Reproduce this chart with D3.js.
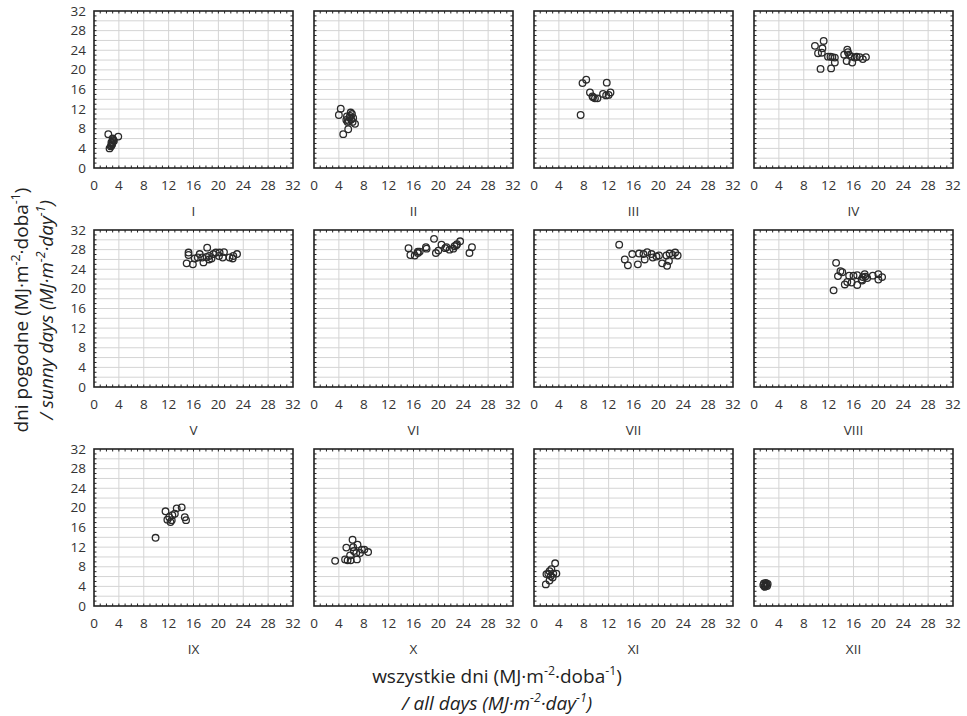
<!DOCTYPE html>
<html>
<head>
<meta charset="utf-8">
<script src="https://cdn.jsdelivr.net/npm/d3@7"></script>
<style>
  body { margin: 0; background: #fff; }
  svg { font-family: "Open Sans", "DejaVu Sans", sans-serif; }
</style>
</head>
<body>
<svg id="chart" width="967" height="716"></svg>
<script>
// month labels (one panel per month)
const months = ["I", "II", "III", "IV", "V", "VI", "VII", "VIII", "IX", "X", "XI", "XII"];
const ticks = [0, 4, 8, 12, 16, 20, 24, 28, 32];

// [all days, sunny days] per month
const m1 = [[2.3,6.9],[3.9,6.4],[2.5,4.0],[2.8,4.6],[2.9,5.0],[3.0,5.3],[3.1,5.7],[2.8,5.2],[3.0,6.0],[2.7,4.4],[3.2,5.5],[2.9,4.8]];
const m2 = [[4.3,12.1],[4.0,10.8],[5.9,11.3],[6.3,10.2],[5.2,9.8],[5.7,10.3],[5.4,9.4],[6.6,9.0],[5.5,7.9],[4.7,6.9],[5.6,9.6],[6.0,9.9],[5.8,10.6],[6.2,9.4],[5.3,10.5],[6.1,11.0]];
const m3 = [[7.5,10.8],[7.8,17.3],[8.4,18.0],[11.7,17.4],[9.0,15.4],[9.4,14.6],[9.8,14.2],[10.2,14.2],[11.1,15.1],[11.6,14.8],[12.0,14.9],[12.3,15.4],[9.5,14.4]];
const m4 = [[9.8,24.9],[11.2,25.9],[11.0,24.4],[10.3,23.4],[10.9,23.5],[10.7,20.2],[11.9,22.7],[12.3,22.7],[12.6,22.6],[13.0,22.5],[13.0,21.5],[12.4,20.3],[15.0,24.1],[14.5,23.1],[15.3,23.1],[14.9,21.8],[15.8,21.5],[15.7,22.7],[16.5,22.7],[17.0,22.6],[17.5,22.2],[18.0,22.6],[16.2,22.5],[15.1,23.6]];
const m5 = [[14.9,25.2],[15.9,25.0],[15.2,27.4],[15.2,26.9],[16.2,26.2],[17.0,27.1],[17.4,26.4],[17.6,25.4],[18.2,28.4],[18.5,26.7],[18.5,26.0],[18.1,26.5],[18.9,26.2],[19.6,27.4],[20.1,26.7],[20.2,27.4],[20.9,27.5],[20.7,26.4],[21.8,26.4],[22.3,26.2],[22.4,26.7],[23.0,27.1],[16.7,26.4],[19.2,27.1]];
const m6 = [[15.2,28.3],[15.5,26.9],[16.2,26.8],[16.7,27.3],[17.0,27.6],[18.0,28.5],[18.1,28.2],[19.3,30.2],[19.6,27.3],[20.0,27.8],[20.5,29.0],[21.1,28.3],[21.8,28.0],[22.4,28.2],[22.6,28.7],[23.0,29.1],[23.5,29.7],[22.9,28.9],[25.0,27.3],[25.4,28.5],[21.3,28.5],[16.7,27.6]];
const m7 = [[13.7,29.0],[14.6,26.0],[15.1,24.8],[15.8,27.1],[16.7,25.0],[16.9,27.2],[17.6,27.1],[17.8,26.0],[18.2,27.5],[18.9,27.1],[19.1,26.4],[19.7,26.6],[20.1,26.8],[20.6,25.2],[21.4,24.7],[21.3,26.8],[21.8,27.2],[22.3,26.9],[22.7,27.4],[23.1,26.8],[21.7,25.7]];
const m8 = [[12.8,19.7],[13.2,25.3],[13.9,23.6],[13.5,22.6],[14.2,23.4],[14.6,20.9],[15.0,21.4],[15.3,22.7],[15.7,21.3],[16.0,22.7],[16.6,20.8],[16.6,22.8],[17.3,21.9],[17.5,22.4],[17.8,23.0],[17.9,22.5],[18.2,22.2],[19.1,22.7],[20.0,23.0],[20.0,21.9],[20.6,22.4],[17.4,21.7]];
const m9 = [[9.9,13.9],[11.5,19.3],[11.8,17.6],[12.1,18.1],[12.5,17.5],[12.6,18.5],[13.0,18.8],[13.3,19.9],[14.1,20.1],[14.6,18.1],[14.8,17.5],[12.3,17.1]];
const m10 = [[3.4,9.2],[5.0,9.5],[5.4,9.3],[5.9,9.3],[5.2,11.9],[6.2,13.5],[6.3,12.0],[7.0,12.5],[6.8,10.8],[6.9,9.5],[7.4,10.8],[7.7,11.5],[8.1,11.5],[8.7,11.0],[6.4,11.2],[5.8,10.3]];
const m11 = [[1.9,4.4],[2.5,5.2],[2.0,6.5],[2.5,7.1],[2.8,7.5],[3.1,6.6],[3.4,8.7],[3.6,6.6],[3.0,5.8],[2.7,6.1],[2.3,6.6]];
const m12 = [[1.6,4.6],[1.8,4.2],[2.0,4.4],[1.7,3.9],[2.1,4.1],[1.9,4.7],[1.5,4.3],[2.2,4.5],[1.8,4.0]];
const series = [m1, m2, m3, m4, m5, m6, m7, m8, m9, m10, m11, m12];

const svg = d3.select("#chart");

const pw = 199, ph = 157;
const x = d3.scaleLinear().domain([0, 32]).range([0, pw]);
const y = d3.scaleLinear().domain([0, 32]).range([ph, 0]);

series.forEach((pts, i) => {
    const col = i % 4, row = Math.floor(i / 4);
    const g = svg.append("g")
        .attr("transform", `translate(${94 + col * 220}, ${11 + row * 219})`);

    // grid: vertical every 4, horizontal every 2
    g.selectAll(".vg").data(d3.range(4, 32, 4)).join("line")
        .attr("x1", d => x(d)).attr("x2", d => x(d))
        .attr("y1", 0).attr("y2", ph)
        .attr("stroke", "#d4d4d4").attr("stroke-width", 1);
    g.selectAll(".hg").data(d3.range(2, 32, 2)).join("line")
        .attr("y1", d => y(d)).attr("y2", d => y(d))
        .attr("x1", 0).attr("x2", pw)
        .attr("stroke", "#d4d4d4").attr("stroke-width", 1);

    // minor ticks, inward, on all four sides
    const minor = d3.range(1, 32, 1);
    g.selectAll(".tb").data(minor).join("line")
        .attr("x1", d => x(d)).attr("x2", d => x(d))
        .attr("y1", ph).attr("y2", ph - 2.5)
        .attr("stroke", "#222");
    g.selectAll(".tt").data(minor).join("line")
        .attr("x1", d => x(d)).attr("x2", d => x(d))
        .attr("y1", 0).attr("y2", 2.5)
        .attr("stroke", "#222");
    g.selectAll(".tl").data(minor).join("line")
        .attr("y1", d => y(d)).attr("y2", d => y(d))
        .attr("x1", 0).attr("x2", 2.5)
        .attr("stroke", "#222");
    g.selectAll(".tr").data(minor).join("line")
        .attr("y1", d => y(d)).attr("y2", d => y(d))
        .attr("x1", pw).attr("x2", pw - 2.5)
        .attr("stroke", "#222");

    // frame
    g.append("rect")
        .attr("width", pw).attr("height", ph)
        .attr("fill", "none").attr("stroke", "#222").attr("stroke-width", 1.6);

    // x tick labels
    g.selectAll(".xl").data(ticks).join("text")
        .attr("x", d => x(d)).attr("y", ph + 22)
        .attr("text-anchor", "middle")
        .attr("font-size", 13.5).attr("fill", "#333")
        .text(d => d);

    // y tick labels only on the left column
    if (col === 0) {
        g.selectAll(".yl").data(ticks).join("text")
            .attr("x", -8).attr("y", d => y(d) + 4.5)
            .attr("text-anchor", "end")
            .attr("font-size", 13.5).attr("fill", "#333")
            .text(d => d);
    }

    // month label
    g.append("text")
        .attr("x", pw / 2).attr("y", ph + 48)
        .attr("text-anchor", "middle")
        .attr("font-size", 13.5).attr("fill", "#333")
        .text(months[i]);

    // points
    g.selectAll(".pt").data(pts).join("circle")
        .attr("cx", d => x(d[0])).attr("cy", d => y(d[1]))
        .attr("r", 3.3)
        .attr("fill", "none").attr("stroke", "#2a2a2a").attr("stroke-width", 1.3);
});

// helper for unit labels with superscripts
function unitText(sel, parts) {
    parts.forEach(p => {
        const t = sel.append("tspan").text(p[0]);
        if (p[1]) t.attr("baseline-shift", "super").attr("font-size", "65%");
    });
}

// y title
const yt = svg.append("g").attr("transform", "translate(28, 310) rotate(-90)");
const yt1 = yt.append("text").attr("text-anchor", "middle").attr("font-size", 19).attr("fill", "#222");
unitText(yt1, [["dni pogodne (MJ·m"], ["-2", true], ["·doba"], ["-1", true], [")"]]);
const yt2 = yt.append("text").attr("y", 25).attr("text-anchor", "middle")
    .attr("font-size", 19).attr("font-style", "italic").attr("fill", "#222");
unitText(yt2, [["/ sunny days (MJ·m"], ["-2", true], ["·day"], ["-1", true], [")"]]);

// x title
const xt1 = svg.append("text").attr("x", 497).attr("y", 683)
    .attr("text-anchor", "middle").attr("font-size", 19).attr("fill", "#222");
unitText(xt1, [["wszystkie dni (MJ·m"], ["-2", true], ["·doba"], ["-1", true], [")"]]);
const xt2 = svg.append("text").attr("x", 497).attr("y", 710)
    .attr("text-anchor", "middle").attr("font-size", 19).attr("font-style", "italic").attr("fill", "#222");
unitText(xt2, [["/ all days (MJ·m"], ["-2", true], ["·day"], ["-1", true], [")"]]);
</script>
</body>
</html>
